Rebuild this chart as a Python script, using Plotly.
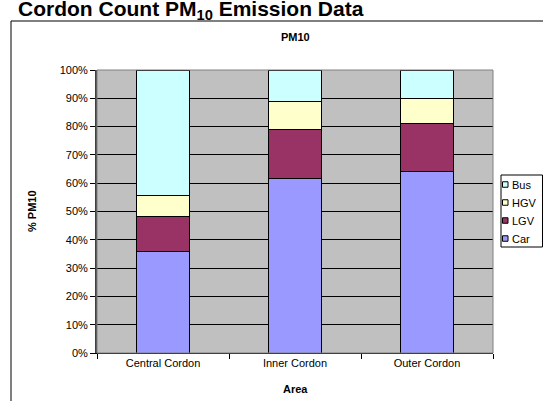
import plotly.graph_objects as go

categories = ["Central Cordon", "Inner Cordon", "Outer Cordon"]
series_names = ["Car", "LGV", "HGV", "Bus"]
car = [0.360, 0.617, 0.640]
lgv = [0.123, 0.173, 0.170]
hgv = [0.072, 0.100, 0.090]
bus = [0.445, 0.110, 0.100]
series_values = [car, lgv, hgv, bus]
series_colors = ["#9999FF", "#993366", "#FFFFCC", "#CCFFFF"]
y_ticks = [i / 10 for i in range(11)]

FONT = "Arial, Liberation Sans, sans-serif"
W, H = 543, 401
L, R, T, B = 97, 50, 70, 48
pw, ph = W - L - R, H - T - B


def px(x):
    return (x - L) / pw


def py(y):
    return (H - B - y) / ph


fig = go.Figure()
for name, vals, col in zip(series_names, series_values, series_colors):
    fig.add_trace(go.Bar(
        x=categories, y=vals, name=name,
        marker=dict(color=col, line=dict(color="black", width=1)),
        showlegend=False,
    ))

fig.update_layout(
    width=W, height=H,
    margin=dict(l=L, r=R, t=T, b=B),
    barmode="stack", bargap=0.6,
    paper_bgcolor="white", plot_bgcolor="#C0C0C0",
    font=dict(family=FONT, size=11, color="black"),
    xaxis=dict(
        tickson="boundaries", ticks="outside", ticklen=5, tickcolor="black",
        showline=True, linecolor="black", linewidth=1,
        showgrid=False, tickfont=dict(size=11),
    ),
    yaxis=dict(
        range=[0, 1], tickvals=y_ticks, tickformat=".0%",
        ticks="outside", ticklen=5, tickcolor="black",
        showline=True, linecolor="#404040", linewidth=2,
        showgrid=True, gridcolor="black", gridwidth=1,
        zeroline=False, tickfont=dict(size=11),
    ),
)

shapes = []
# plot-area border
shapes.append(dict(type="rect", xref="paper", yref="paper", x0=0, x1=1, y0=0, y1=1,
                   line=dict(color="#808080", width=1), layer="above"))
# outer chart frame (extends beyond the window)
shapes.append(dict(type="rect", xref="paper", yref="paper",
                   x0=px(11), x1=px(600), y0=py(460), y1=py(21),
                   line=dict(color="black", width=1)))
# legend box
shapes.append(dict(type="rect", xref="paper", yref="paper",
                   x0=px(501), x1=px(542.5), y0=py(247), y1=py(175),
                   line=dict(color="black", width=1), fillcolor="white"))

annotations = []
leg_y = [184.5, 202.5, 220.5, 238.5]
for (name, col), yc in zip(list(zip(series_names, series_colors))[::-1], leg_y):
    shapes.append(dict(type="rect", xref="paper", yref="paper",
                       x0=px(502.5), x1=px(508), y0=py(yc + 2.75), y1=py(yc - 2.75),
                       fillcolor=col, line=dict(color="black", width=1)))
    annotations.append(dict(text=name, xref="paper", yref="paper", x=px(509.5), y=py(yc),
                            xanchor="left", yanchor="middle", showarrow=False,
                            font=dict(size=11)))

annotations += [
    dict(text="<b>Cordon Count PM<sub>10</sub> Emission Data</b>", xref="paper", yref="paper",
         x=px(16), y=py(25), xanchor="left", yanchor="bottom", showarrow=False,
         font=dict(size=21)),
    dict(text="<b>PM10</b>", xref="paper", yref="paper", x=0.5, y=py(37),
         xanchor="center", yanchor="middle", showarrow=False, font=dict(size=11)),
    dict(text="<b>Area</b>", xref="paper", yref="paper", x=0.5, y=py(389),
         xanchor="center", yanchor="middle", showarrow=False, font=dict(size=11)),
    dict(text="<b>% PM10</b>", xref="paper", yref="paper", x=px(31.5), y=0.5,
         xanchor="center", yanchor="middle", textangle=-90, showarrow=False,
         font=dict(size=11)),
]

fig.update_layout(shapes=shapes, annotations=annotations)
fig.write_html("out.html")
